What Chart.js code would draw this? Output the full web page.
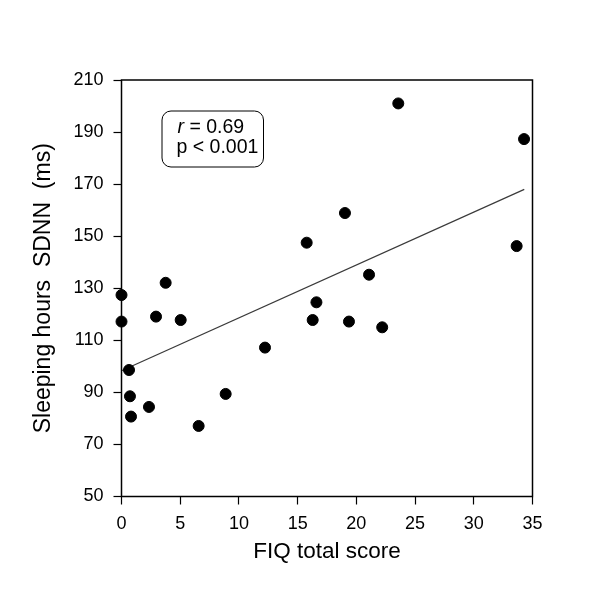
<!DOCTYPE html>
<html>
<head>
<meta charset="utf-8">
<script src="https://cdn.jsdelivr.net/npm/chart.js@4.4.1/dist/chart.umd.min.js"></script>
<style>
  html, body { margin: 0; padding: 0; background: #fff; }
  canvas { display: block; }
</style>
</head>
<body>
<canvas id="scatterChart" width="600" height="591"></canvas>
<script>
// FIQ total score vs sleeping hours SDNN
const fiqScore = [0, 0, 0.64, 0.72, 0.81, 2.34, 2.94, 3.76, 5.04, 6.57, 8.87,
    12.22, 15.77, 16.28, 16.6, 19.03, 19.37, 21.08, 22.2, 23.57, 33.65, 34.28];
const sdnn = [127.4, 117.2, 98.6, 88.5, 80.7, 84.4, 119.1, 132.1, 117.8, 77.1, 89.4,
    107.2, 147.5, 117.8, 124.6, 158.9, 117.2, 135.2, 115.0, 201.0, 146.2, 187.3];

// regression line end points
const fitX = [0, 34.3];
const fitY = [98.3, 168.0];

const xRange = [0, 35];
const yRange = [50, 210];
const statLines = ['= 0.69', 'p < 0.001'];
const statSymbol = 'r';

const FONT = "'Liberation Sans', Arial, sans-serif";

const toPoints = (xs, ys) => xs.map((x, i) => ({ x: x, y: ys[i] }));

// frame around the plot + stats box
const frameAndBox = {
    id: 'frameAndBox',
    afterDatasetsDraw(chart) {
        const ctx = chart.ctx;
        const a = chart.chartArea;
        ctx.save();
        ctx.strokeStyle = '#000';
        ctx.lineWidth = 1.5;
        ctx.strokeRect(a.left, a.top, a.right - a.left, a.bottom - a.top);

        // stats box
        const bx = a.left + 40.5, by = a.top + 31, bw = 101.5, bh = 56;
        ctx.lineWidth = 1;
        ctx.beginPath();
        ctx.roundRect(bx, by, bw, bh, 9);
        ctx.fillStyle = '#fff';
        ctx.fill();
        ctx.stroke();

        ctx.fillStyle = '#000';
        ctx.textBaseline = 'middle';
        ctx.textAlign = 'left';
        ctx.font = 'italic 19.5px ' + FONT;
        ctx.fillText(statSymbol, bx + 15.5, by + 16.5);
        const rw = ctx.measureText(statSymbol + ' ').width;
        ctx.font = '19.5px ' + FONT;
        ctx.fillText(statLines[0], bx + 15.5 + rw, by + 16.5);
        ctx.fillText(statLines[1], bx + 14.5, by + 37);
        ctx.restore();
    }
};

const ctx = document.getElementById('scatterChart').getContext('2d');
new Chart(ctx, {
    type: 'scatter',
    data: {
        datasets: [
            {
                label: 'SDNN',
                data: toPoints(fiqScore, sdnn),
                backgroundColor: '#000',
                borderColor: '#000',
                pointRadius: 5.5,
                pointHoverRadius: 5.5,
                clip: false
            },
            {
                type: 'line',
                label: 'fit',
                data: toPoints(fitX, fitY),
                borderColor: '#3a3a3a',
                borderWidth: 1.2,
                pointRadius: 0,
                fill: false,
                clip: false
            }
        ]
    },
    options: {
        responsive: false,
        animation: false,
        devicePixelRatio: 1,
        layout: {
            autoPadding: false,
            padding: { top: 80, right: 67.5, left: 0, bottom: 0 }
        },
        plugins: {
            legend: { display: false },
            tooltip: { enabled: false }
        },
        scales: {
            x: {
                type: 'linear',
                min: xRange[0],
                max: xRange[1],
                afterFit: (scale) => { scale.height = 94.5; },
                border: { display: false },
                grid: {
                    drawOnChartArea: false,
                    drawTicks: true,
                    tickLength: 8,
                    tickColor: '#000',
                    tickWidth: 1.2
                },
                ticks: {
                    stepSize: 5,
                    color: '#000',
                    padding: 9,
                    maxRotation: 0,
                    font: { family: FONT, size: 18 }
                },
                title: {
                    display: true,
                    text: 'FIQ total score',
                    color: '#000',
                    padding: { top: 0, bottom: 25.5 },
                    font: { family: FONT, size: 22.5 }
                }
            },
            y: {
                type: 'linear',
                min: yRange[0],
                max: yRange[1],
                afterFit: (scale) => { scale.width = 121.5; },
                border: { display: false },
                grid: {
                    drawOnChartArea: false,
                    drawTicks: true,
                    tickLength: 8,
                    tickColor: '#000',
                    tickWidth: 1.2
                },
                ticks: {
                    stepSize: 20,
                    color: '#000',
                    padding: 10,
                    font: { family: FONT, size: 18 }
                },
                title: {
                    display: true,
                    text: 'Sleeping hours  SDNN  (ms)',
                    color: '#000',
                    padding: { top: 30, bottom: 0 },
                    font: { family: FONT, size: 23 }
                }
            }
        }
    },
    plugins: [frameAndBox]
});
</script>
</body>
</html>
